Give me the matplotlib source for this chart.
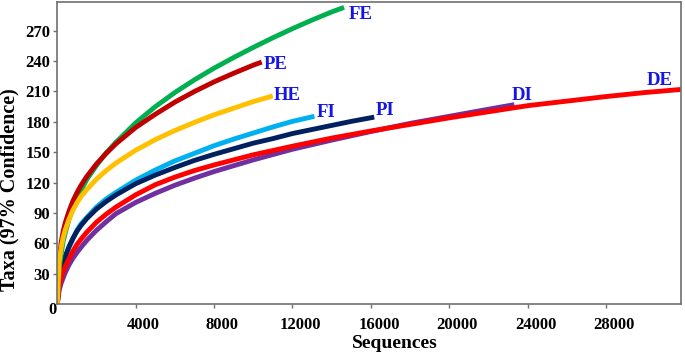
import matplotlib
matplotlib.use("Agg")
import matplotlib.pyplot as plt
import matplotlib.transforms as mtransforms

plt.rcParams.update({"font.family": "Liberation Serif", "font.weight": "bold"})

# rarefaction curves, values
fe_x = [0, 100, 200, 300, 400, 600, 800, 1000, 1200, 1500, 2000, 2500, 3000, 4000, 5000,
        6000, 7000, 8000, 9000, 10000, 11000, 12000, 13000, 14000, 14630]
fe_y = [0, 35, 50, 62, 70, 84, 95, 104, 112, 123, 137, 149.5, 160, 179, 195,
        209, 221.5, 233, 243.5, 253.5, 263, 272, 280.5, 288.5, 293]

pe_x = [0, 100, 200, 300, 400, 600, 800, 1000, 1200, 1500, 2000, 2500, 3000, 4000, 5000,
        6000, 7000, 8000, 9000, 10000, 10430]
pe_y = [0, 45, 61, 72, 80, 92, 102, 110, 117, 126, 138.5, 149, 158.5, 174.5, 187.5,
        199.5, 210, 219.5, 228, 236, 239]

he_x = [0, 100, 200, 300, 400, 600, 800, 1000, 1200, 1500, 2000, 2500, 3000, 4000, 5000,
        6000, 7000, 8000, 9000, 10000, 10990]
he_y = [0, 42, 56, 66, 73, 84, 93, 100, 106, 113, 123.5, 132, 139.5, 152, 162.5,
        171.5, 179.5, 187, 193.5, 200, 205.6]

fi_x = [0, 100, 200, 300, 400, 600, 800, 1000, 1200, 1500, 2000, 2500, 3000, 4000, 5000,
        6000, 7000, 8000, 9000, 10000, 11000, 12000, 13120]
fi_y = [0, 25, 33, 40, 46, 56, 65, 73, 79, 85.5, 96, 104, 110.5, 122.5, 132.5,
        141.5, 149, 156.5, 163, 169, 175, 180.5, 185.5]

pi_x = [0, 100, 200, 300, 400, 600, 800, 1000, 1200, 1500, 2000, 2500, 3000, 4000, 5000,
        6000, 7000, 8000, 9000, 10000, 11000, 12000, 13000, 14000, 15000, 16170]
pi_y = [0, 25, 33, 40, 47, 57, 65, 72, 77.5, 84.5, 94, 101.5, 108, 119, 127.5,
        135, 142, 148, 153.5, 159, 163.5, 168.5, 172.5, 176.5, 180.5, 184.7]

de_x = [0, 100, 200, 300, 400, 600, 800, 1000, 1200, 1500, 2000, 2500, 3000, 4000, 5000,
        6000, 7000, 8000, 10000, 12000, 14000, 16000, 18000, 20000, 22000, 24000, 26000,
        28000, 30000, 31820]
de_y = [0, 18, 26, 32, 37, 45, 52.5, 59, 64, 71, 81, 89, 96, 108, 118,
        125.5, 132, 137.5, 147.5, 156, 164, 171, 177.5, 184, 190, 196, 200.5,
        205, 209, 212]

di_x = [0, 100, 200, 300, 400, 600, 800, 1000, 1200, 1500, 2000, 2500, 3000, 4000, 5000,
        6000, 7000, 8000, 10000, 12000, 14000, 16000, 18000, 20000, 22000, 23320]
di_y = [0, 14, 21, 26, 31, 39, 45.5, 51, 56, 63, 73, 81.5, 89.5, 100.5, 109.5,
        117.5, 124.5, 131, 142.5, 153, 162, 170.5, 178.5, 185.5, 192.5, 197]

x_ticks = [4000, 8000, 12000, 16000, 20000, 24000, 28000]
y_ticks = [30, 60, 90, 120, 150, 180, 210, 240, 270]

# name, x, y, colour, label offset (points)
series = [
    ("DI", di_x, di_y, "#7030A0", (5.5, 6.6)),
    ("FI", fi_x, fi_y, "#00B0F0", (8.4, 2.8)),
    ("PI", pi_x, pi_y, "#002060", (7.6, 4.6)),
    ("DE", de_x, de_y, "#FF0000", (-15.1, 6.3)),
    ("FE", fe_x, fe_y, "#00B050", (11.7, -4.8)),
    ("PE", pe_x, pe_y, "#C00000", (9.8, -1.4)),
    ("HE", he_x, he_y, "#FFC000", (10.4, 0.3)),
]

fig = plt.figure(figsize=(6.85, 3.55), dpi=100)
ax = fig.add_axes([0.0836, 0.1428, 0.9106, 0.8516])

for name, xs, ys, col, off in series:
    ax.plot(xs, ys, color=col, lw=3.5, solid_capstyle="butt", solid_joinstyle="round")
    ax.annotate(name, (xs[-1], ys[-1]), xytext=off, textcoords="offset points",
                ha="center", va="center", color="#1515E8", fontsize=13.5, fontweight="bold")

ax.set_xlim(0, 31820)
ax.set_ylim(0, 298.3)
ax.set_xticks(x_ticks)
ax.set_yticks(y_ticks)

for s in ax.spines.values():
    s.set_color("#707070")
    s.set_linewidth(1.2)
ax.tick_params(axis="both", colors="#707070", length=3, width=1, labelcolor="black",
               labelsize=12)
ax.tick_params(axis="x", pad=6)
ax.tick_params(axis="y", pad=2)

# x tick labels sit a bit right of their ticks
shift = mtransforms.ScaledTranslation(8 / 100, 0, fig.dpi_scale_trans)
for lab in ax.get_xticklabels():
    lab.set_transform(lab.get_transform() + shift)
    lab.set_fontweight("bold")
for lab in ax.get_yticklabels():
    lab.set_fontweight("bold")

ax.text(-0.007, -0.019, "0", transform=ax.transAxes, ha="center", va="center",
        fontsize=12, fontweight="bold")

ax.set_xlabel("Sequences", fontsize=14, fontweight="bold", va="center")
ax.xaxis.set_label_coords(0.541, -0.128)
ax.set_ylabel("Taxa (97% Confidence)", fontsize=14.5, fontweight="bold", va="center")
ax.yaxis.set_label_coords(-0.0764, 0.378)

fig.savefig("out.png", dpi=100)
